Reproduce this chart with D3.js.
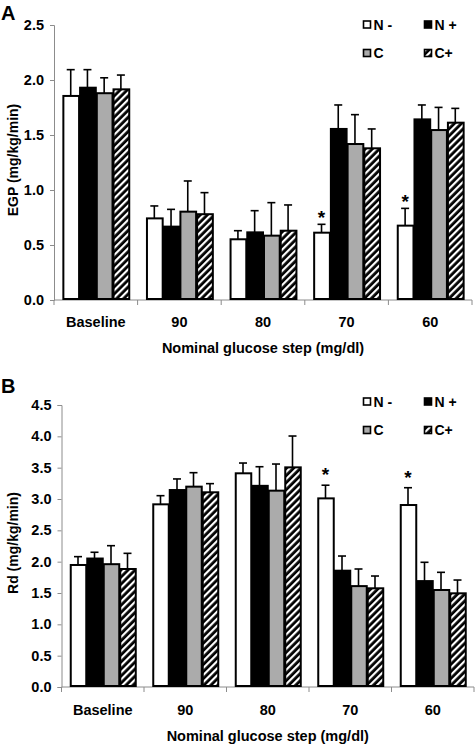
<!DOCTYPE html>
<html><head><meta charset="utf-8">
<script src="https://cdn.jsdelivr.net/npm/d3@7"></script>
<style>body{margin:0;background:#fff}svg{display:block;font-family:"Liberation Sans",Arial,sans-serif;font-weight:bold}</style>
</head><body>
<svg id="chart" width="475" height="745"></svg>
<script>
const categories = ["Baseline", "90", "80", "70", "60"];
const seriesNames = ["N -", "N +", "C", "C+"];
// Panel A: EGP
const egpMean = {
  "N -": [1.855, 0.742, 0.552, 0.612, 0.676],
  "N +": [1.93, 0.667, 0.615, 1.555, 1.642],
  "C":   [1.88, 0.803, 0.585, 1.418, 1.545],
  "C+":  [1.915, 0.78, 0.63, 1.379, 1.612]
};
const egpErrTop = {
  "N -": [2.094, 0.855, 0.63, 0.688, 0.833],
  "N +": [2.094, 0.824, 0.812, 1.773, 1.773],
  "C":   [2.02, 1.082, 0.885, 1.685, 1.751],
  "C+":  [2.045, 0.976, 0.864, 1.555, 1.742]
};
const egpTicks = [0, 0.5, 1.0, 1.5, 2.0, 2.5];
// Panel B: Rd
const rdMean = {
  "N -": [1.947, 2.915, 3.41, 3.01, 2.904],
  "N +": [2.05, 3.143, 3.21, 1.856, 1.69],
  "C":   [1.96, 3.197, 3.133, 1.61, 1.548],
  "C+":  [1.883, 3.107, 3.505, 1.575, 1.495]
};
const rdErrTop = {
  "N -": [2.08, 3.053, 3.574, 3.22, 3.18],
  "N +": [2.15, 3.32, 3.515, 2.09, 1.99],
  "C":   [2.255, 3.42, 3.558, 1.883, 1.83],
  "C+":  [2.133, 3.245, 4.005, 1.771, 1.707]
};
const rdTicks = [0, 0.5, 1.0, 1.5, 2.0, 2.5, 3.0, 3.5, 4.0, 4.5];
// significance markers (series N -)
const egpSig = ["70", "60"];
const rdSig = ["70", "60"];

const svg = d3.select("#chart");
const defs = svg.append("defs");
const pat = defs.append("pattern").attr("id", "hatch").attr("patternUnits", "userSpaceOnUse")
  .attr("width", 5).attr("height", 5).attr("patternTransform", "rotate(45)");
pat.append("rect").attr("width", 5).attr("height", 5).attr("fill", "#000");
pat.append("rect").attr("x", 0).attr("width", 2.2).attr("height", 5).attr("fill", "#fff");

const fills = {"N -": "#fff", "N +": "#000", "C": "#ababab", "C+": "url(#hatch)"};

function panel(opts) {
  const g = svg.append("g");
  const y = d3.scaleLinear().domain([0, opts.max]).range([opts.y0, opts.y1]);
  const x = d3.scaleBand().domain(categories).range([opts.x0, opts.x1]).paddingInner(0.2).paddingOuter(0.1);
  const xs = d3.scaleBand().domain(seriesNames).range([0, x.bandwidth()]);
  const bw = x.step();

  // y axis
  const ya = g.append("g").attr("transform", `translate(${opts.x0},0)`)
    .call(d3.axisLeft(y).tickValues(opts.ticks).tickFormat(d3.format(".1f")).tickSize(4).tickPadding(6));
  ya.selectAll("path,line").attr("stroke", "#8c8c8c");
  ya.selectAll("text").attr("font-size", 14.5).attr("font-weight", "bold").attr("fill", "#000")
    .attr("font-family", '"Liberation Sans",Arial,sans-serif');

  // x axis
  const xa = g.append("g").attr("transform", `translate(0,${opts.y0})`);
  xa.append("line").attr("x1", opts.x0).attr("x2", opts.x1).attr("stroke", "#8c8c8c");
  const bounds = d3.range(categories.length + 1).map(i => opts.x0 + i * bw);
  xa.selectAll("line.t").data(bounds).join("line").attr("class", "t")
    .attr("x1", d => d).attr("x2", d => d).attr("y1", 0).attr("y2", 5).attr("stroke", "#8c8c8c");
  xa.selectAll("text").data(categories).join("text")
    .attr("x", d => opts.x0 + categories.indexOf(d) * bw + bw / 2)
    .attr("y", opts.labelDy).attr("text-anchor", "middle").attr("font-size", 14.5).text(d => d);

  // bars
  const data = [];
  categories.forEach((c, i) => seriesNames.forEach(s => data.push({c, s, v: opts.mean[s][i], e: opts.err[s][i]})));
  const bg = g.append("g");
  bg.selectAll("line.err").data(data).join("line").attr("class", "err")
    .attr("x1", d => x(d.c) + xs(d.s) + xs.bandwidth() / 2)
    .attr("x2", d => x(d.c) + xs(d.s) + xs.bandwidth() / 2)
    .attr("y1", d => y(d.v)).attr("y2", d => y(d.e)).attr("stroke", "#000").attr("stroke-width", 1.6);
  bg.selectAll("line.cap").data(data).join("line").attr("class", "cap")
    .attr("x1", d => x(d.c) + xs(d.s) + xs.bandwidth() / 2 - 4)
    .attr("x2", d => x(d.c) + xs(d.s) + xs.bandwidth() / 2 + 4)
    .attr("y1", d => y(d.e)).attr("y2", d => y(d.e)).attr("stroke", "#000").attr("stroke-width", 1.6);
  bg.selectAll("rect").data(data).join("rect")
    .attr("x", d => x(d.c) + xs(d.s) + 1)
    .attr("width", xs.bandwidth() - 1)
    .attr("y", d => y(d.v)).attr("height", d => y(0) - y(d.v) - 1)
    .attr("fill", d => fills[d.s]).attr("stroke", "#000").attr("stroke-width", 2);

  // significance
  g.selectAll("text.sig").data(opts.sig).join("text").attr("class", "sig")
    .attr("x", d => x(d) + xs("N -") + xs.bandwidth() / 2)
    .attr("y", d => y(opts.err["N -"][categories.indexOf(d)]) - opts.sigGap)
    .attr("text-anchor", "middle").attr("font-size", 19).text("*");

  // titles
  g.append("text").attr("x", (opts.x0 + opts.x1) / 2).attr("y", opts.titleY)
    .attr("text-anchor", "middle").attr("font-size", 14.5).text("Nominal glucose step (mg/dl)");
  g.append("text").attr("transform", `translate(${opts.ytX},${opts.ytY}) rotate(-90)`)
    .attr("text-anchor", "middle").attr("font-size", 14).text(opts.yTitle);
  g.append("text").attr("x", 1).attr("y", opts.letterY).attr("font-size", 20).text(opts.letter);

  // legend
  const lg = g.append("g");
  seriesNames.forEach((s, i) => {
    const lx = 363.5 + (i % 2) * 61, ly = opts.legY + Math.floor(i / 2) * 28.5;
    lg.append("rect").attr("x", lx).attr("y", ly).attr("width", 7).attr("height", 7)
      .attr("fill", fills[s]).attr("stroke", "#000").attr("stroke-width", 1.6);
    lg.append("text").attr("x", lx + 10).attr("y", ly + 8.5).attr("font-size", 14).text(s);
  });
}

panel({mean: egpMean, err: egpErrTop, ticks: egpTicks, max: 2.5, y0: 300, y1: 25, x0: 54, x1: 472,
  labelDy: 27, titleY: 353, yTitle: "EGP (mg/kg/min)", ytX: 18, ytY: 160, letter: "A", letterY: 20,
  legY: 21, sig: egpSig, sigGap: 0});
panel({mean: rdMean, err: rdErrTop, ticks: rdTicks, max: 4.5, y0: 687, y1: 405, x0: 61.5, x1: 474,
  labelDy: 28, titleY: 741, yTitle: "Rd (mg/kg/min)", ytX: 18, ytY: 543, letter: "B", letterY: 393,
  legY: 398, sig: rdSig, sigGap: 4});
</script>
</body></html>
